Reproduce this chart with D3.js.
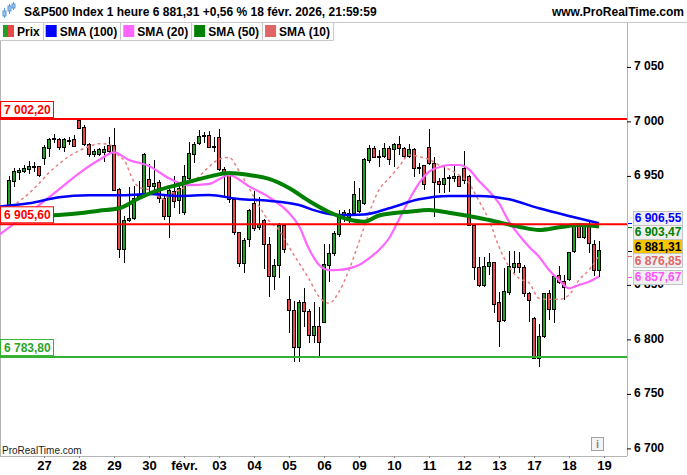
<!DOCTYPE html>
<html>
<head>
<meta charset="utf-8">
<script src="https://cdn.jsdelivr.net/npm/d3@7"></script>
<style>
  body { margin: 0; background: #fff; }
  svg { display: block; font-family: "Liberation Sans", Arial, sans-serif; }
</style>
</head>
<body>
<div id="chart"></div>
<script>

// ---- data (hourly bars, 26 janv. -> 18 févr.) ----
const dayLabels = ["27","28","29","30","févr.","03","04","05","06","09","10","11","12","13","17","18","19"];
const dayStart  = [7,14,21,28,35,42,49,56,63,70,77,84,91,98,105,112,119];

const open = [6917,6944.7,6953.3,6953.9,6956,6958.6,6958.5,
  6966.1,6974.7,6983.5,6983,6976.2,6982,6983,
  7001,6994.6,6978.4,6969.2,6970,6971.3,6977.5,
  6977.5,6937.7,6882.6,6909,6911,6930,6934,
  6946.9,6940.1,6944,6929.4,6913.2,6936.1,6927.3,
  6916.2,6947.8,6969.2,6979.3,6986.6,6987.5,6976.8,
  6985.4,6956,6952.4,6928.5,6897.9,6869.8,6891.2,
  6924.8,6902.8,6909.5,6887.2,6858.1,6868.2,6904.9,
  6836.7,6826.9,6792.6,6833.9,6826,6803.6,6812.2,
  6815.6,6867.6,6878.9,6896.4,6913.8,6912,6915.6,
  6917.2,6924.8,6964,6975.3,6968,6967.7,6975.3,
  6974.4,6978.4,6975.3,6967.7,6974.4,6957.9,6959.1,
  6976.2,6961,6944.7,6941.7,6948.1,6947.8,6949.9,
  6957,6949.9,6904.9,6866.1,6849.9,6867.3,6870.4,
  6833.9,6817.7,6842.8,6866.1,6869.8,6866.1,6842.2,
  6819.3,6782.5,6802.4,6842.2,6827.5,6859,6852.9,
  6855,6880.5,6904,6893.3,6903.4,6887.5,6863];

const high = [6950,6957.6,6957,6960,6964,6963,6959,
  6978.4,6984.5,6988.5,6984.5,6984.5,6986,6987.5,
  7002.2,6996.7,6979.9,6974.4,6975.3,6977.5,6986,
  6993.7,6939.2,6913.2,6940,6940.7,6945,6971.3,
  6960.9,6964.6,6946.2,6931.6,6939.5,6949.9,6943.2,
  6960,6980.8,6981.4,6992.1,6990.6,6991.5,6986,
  6992.8,6957.9,6953.9,6928.5,6898.8,6893.3,6919.3,
  6936.1,6930.3,6910.1,6894.2,6873.4,6906.4,6904.9,
  6858.1,6835.5,6836.1,6846.8,6827.5,6834.6,6830,
  6887.5,6887.5,6899.7,6918.7,6918.7,6919.3,6945.6,
  6938.6,6966.1,6978.4,6977.5,6973.8,6979.9,6977.5,
  6980.5,6986.6,6976.8,6979.3,6975.3,6962.2,6960,
  6992.8,6967,6947.8,6960,6950.8,6959.1,6950.8,
  6973.2,6950.8,6904.9,6875.9,6875.9,6879,6871.3,
  6843.7,6865.2,6881.4,6881.4,6880.5,6868.2,6843.7,
  6820.8,6814.1,6842.8,6845.3,6859,6867.3,6859,
  6880.5,6904.9,6907.1,6904.9,6909.5,6891.2,6890.2];

const low = [6915,6940.1,6946,6952.4,6952,6954,6949.3,
  6960,6967.7,6980,6973.8,6972.2,6978.4,6976.2,
  6993.7,6977.5,6967.7,6967.7,6968.6,6963,6970.7,
  6937,6874.3,6870.4,6908,6910,6928,6932.5,
  6935.5,6935.5,6924.8,6909.5,6893.3,6920.2,6915,
  6914.1,6946.2,6961.5,6978.4,6979.9,6975.3,6972.3,
  6954.8,6930.3,6924.8,6895.8,6866.7,6861.2,6884.4,
  6899.7,6900.3,6864.2,6838.5,6845.3,6856,6878.9,
  6806.1,6778.9,6778.9,6811.6,6796.3,6796.3,6784.1,
  6814.7,6852.9,6876.5,6894.2,6908,6906.5,6914.1,
  6915.6,6923,6962.2,6966.1,6957.9,6966.1,6960,
  6958.5,6969.2,6966.1,6966.1,6949.3,6951.8,6937.1,
  6960,6912,6934.6,6934.6,6935.5,6944.7,6939.5,
  6942.6,6904,6854.4,6848.3,6848.3,6859,6823.8,
  6793.2,6816.2,6840.7,6861.2,6860.6,6839.1,6816.2,
  6781.6,6774.3,6801,6817.7,6815.3,6850.8,6836.1,
  6853.8,6879.5,6892.7,6891.8,6879,6858.1,6857.5];

const close = [6946,6953.9,6955.4,6956.6,6959,6958.5,6950,
  6976.2,6983,6984.5,6976.2,6983,6982.3,6976.8,
  6993.7,6978.4,6969.2,6972.3,6973.8,6973.8,6972.3,
  6937,6882.6,6909.5,6911,6929.4,6932,6969.2,
  6940.1,6943.2,6929.4,6913.2,6936.4,6926.3,6938.6,
  6949.3,6970.1,6979,6986.6,6987.5,6976.2,6976,
  6956,6953,6927.9,6897.9,6869.8,6890.6,6917.8,
  6901.9,6905.8,6887.2,6858.1,6867.9,6904.9,6882.6,
  6826.3,6792.6,6833.9,6826,6803.6,6812.2,6797.2,
  6868.8,6878.9,6896.7,6913.8,6916,6915.6,6932.5,
  6927.3,6964.6,6975.3,6967,6967.5,6975.3,6964.6,
  6978.4,6975.3,6967.7,6974.4,6957,6957.4,6941.7,
  6961.5,6943.8,6941.7,6947.8,6947.7,6949.9,6940.7,
  6945.6,6904.9,6866.1,6849.9,6867.3,6870.4,6832.1,
  6816.2,6844.3,6866.7,6869.8,6866.1,6842.2,6835.5,
  6782.5,6802.4,6842.2,6827.5,6858.1,6852,6847.7,
  6879.5,6904,6893.3,6903.4,6888.1,6863,6881.31];

// moving averages (bar index, value)
const sma100Idx = [-2,4,10,16,22,28,34,40,46,52,58,62,66,71,76,82,88,94,100,106,112,118];
const sma100 = [6921.9,6924.9,6930.4,6932.2,6932.2,6933.4,6931.6,6932.5,6928.8,6927.2,6923.3,6917.2,6914.1,6914.6,6920.3,6928.5,6931.6,6931.6,6928.5,6920.3,6913.2,6906.55];

const sma50Idx = [-2,9,14,18,22,26,30,34,40,44,48,52,56,60,64,68,71,74,80,84,88,92,96,102,106,110,114,118];
const sma50 = [6913.2,6913.9,6915.7,6918.1,6920.3,6929.5,6937.1,6942.1,6949.3,6952.7,6950.8,6947.2,6938.9,6927,6916.9,6910,6908,6913.7,6917.2,6918.7,6916.2,6913.2,6909.5,6903.4,6900.4,6902.8,6904.9,6903.47];

const sma20Idx = [-2,2,6,10,14,18,21,24,28,32,36,40,44,48,52,56,58,60,62,64,66,68,70,72,74,76,78,80,82,84,86,88,90,92,94,96,98,100,102,104,106,108,110,112,114,116,118];
const sma20 = [6895.8,6909.5,6923.3,6937.7,6952.4,6964.6,6971.6,6964.6,6959.1,6947.8,6941.5,6942.6,6950.8,6940.4,6930.6,6916,6904,6883,6868.4,6863.5,6863.7,6865.2,6868.3,6874.4,6882,6892.8,6910,6927.9,6943.2,6953.9,6958,6960,6960,6956,6945.3,6936,6924.9,6908,6895.8,6885,6875.9,6863.7,6854.5,6846.9,6849.9,6852.9,6857.67];

const sma10Idx = [0,1,4,6,8,10,12,14,16,18,20,22,23,25,26,28,30,31,32,34,36,38,40,42,44,46,48,50,52,54,56,58,60,62,64,66,68,70,72,74,76,78,80,82,84,86,88,90,92,94,96,98,100,102,104,106,108,110,112,114,116,118];
const sma10 = [6916,6922,6934,6943,6953,6961,6968,6973,6977,6979.5,6979,6968,6964.6,6944.7,6939.6,6937.1,6930.9,6928.5,6932.5,6937.1,6941.6,6949.3,6958.4,6965.2,6967,6954.5,6938.9,6922.4,6908.6,6900.4,6884.8,6870.1,6855.4,6839.2,6833.1,6843.8,6863.7,6889.4,6915.7,6937.1,6947.8,6958.4,6969.2,6967.6,6965.2,6960,6956.1,6950.8,6943.2,6927,6909.5,6885,6866.7,6856,6852,6837.7,6836.8,6836.8,6840.7,6854.5,6863.7,6876.85];

const levels = [7002.2, 6905.6, 6783.8];
const levelColors = ["#ff0000", "#ff0000", "#33b233"];
const levelTextColors = ["#ff0000", "#ff0000", "#2aa52a"];

// 6 900 is hidden behind the value boxes in the reference
const yTicks = [7050, 7000, 6950, 6850, 6800, 6750, 6700];

const lastVals   = [6906.55, 6903.47, 6881.31, 6876.85, 6857.67];
const lastColors = ["#0000ff", "#008000", "#000000", "#e06666", "#ff55ff"];
const lastFills  = ["#f0f0f0", "#f0f0f0", "#f7c500", "#f0f0f0", "#f0f0f0"];

const legendNames  = ["Prix", "SMA (100)", "SMA (20)", "SMA (50)", "SMA (10)"];
const legendColors = [null, "#0000ff", "#ff66ff", "#008000", "#e06666"];

const title = "S&P500 Index 1 heure 6 881,31 +0,56 % 18 févr. 2026, 21:59:59";

// ---- layout ----
const W = 687, H = 475;
const plot = {left: 0, right: 627, top: 41, bottom: 456};

const fr = d3.formatLocale({decimal: ",", thousands: " ", grouping: [3], currency: ["", ""]});
const fmt0 = fr.format(",.0f"), fmt2 = fr.format(",.2f");

const svg = d3.select("#chart").append("svg")
    .attr("width", W)
    .attr("height", H);

let x = d3.scaleLinear().domain([0, 118]).range([9, 599]);
let y = d3.scaleLinear().domain([6700, 7050]).range([448.4, 66.9]);

svg.append("clipPath").attr("id", "clip")
  .append("rect")
    .attr("x", plot.left).attr("y", plot.top)
    .attr("width", plot.right - plot.left).attr("height", plot.bottom - plot.top);

// header
const icon = svg.append("g").attr("stroke", "#5b9bd5").attr("fill", "#9cc3e6");
[[4, 8, 18, 11, 16], [9, 4, 14, 6, 11], [13, 2, 10, 4, 8]].forEach(c => {
  icon.append("line").attr("x1", c[0] + 0.5).attr("x2", c[0] + 0.5).attr("y1", c[1]).attr("y2", c[2]);
  icon.append("rect").attr("x", c[0] - 1).attr("y", c[3]).attr("width", 3).attr("height", c[4] - c[3]);
});

svg.append("text")
    .attr("x", 24).attr("y", 16)
    .attr("font-size", 12).attr("font-weight", "bold")
    .text(title);

svg.append("text")
    .attr("x", 684).attr("y", 16)
    .attr("text-anchor", "end")
    .attr("font-size", 12).attr("font-weight", "bold")
    .text("www.ProRealTime.com");

svg.append("line")
    .attr("x1", 0).attr("x2", W).attr("y1", 22.5).attr("y2", 22.5)
    .attr("stroke", "#c8c8c8");

// legend row
const leg = svg.append("g").attr("font-size", 12).attr("font-weight", "bold");
let cx = 0;
legendNames.forEach((name, i) => {
  if (i === 0) {
    leg.append("rect").attr("x", cx + 3).attr("y", 25).attr("width", 5).attr("height", 12).attr("fill", "#22a022");
    leg.append("rect").attr("x", cx + 8).attr("y", 25).attr("width", 6).attr("height", 12).attr("fill", "#e84848");
  } else {
    leg.append("rect").attr("x", cx + 3).attr("y", 25).attr("width", 11).attr("height", 12).attr("fill", legendColors[i]);
  }
  const t = leg.append("text").attr("x", cx + 17).attr("y", 36).text(name);
  cx += 17 + t.node().getComputedTextLength() + 3;
  leg.append("line")
      .attr("x1", Math.round(cx) + 0.5).attr("x2", Math.round(cx) + 0.5)
      .attr("y1", 23).attr("y2", 40)
      .attr("stroke", "#c8c8c8");
});
leg.append("line")
    .attr("x1", 0).attr("x2", Math.round(cx) + 0.5).attr("y1", 40.5).attr("y2", 40.5)
    .attr("stroke", "#c8c8c8");

// frame
svg.append("line").attr("x1", 0.5).attr("x2", 0.5).attr("y1", plot.top).attr("y2", plot.bottom)
    .attr("stroke", "#b4b4b4");
svg.append("line").attr("x1", plot.right + 0.5).attr("x2", plot.right + 0.5).attr("y1", 23).attr("y2", plot.bottom)
    .attr("stroke", "#b4b4b4");
svg.append("line").attr("x1", 0).attr("x2", plot.right).attr("y1", plot.bottom + 0.5).attr("y2", plot.bottom + 0.5)
    .attr("stroke", "#b4b4b4");

// watermark + info icon
svg.append("text")
    .attr("x", 2).attr("y", 454)
    .attr("font-size", 10).attr("fill", "#222")
    .text("ProRealTime.com");
svg.append("rect").attr("x", 591.5).attr("y", 437.5).attr("width", 12).attr("height", 13)
    .attr("fill", "#f4f4f4").attr("stroke", "#a0a0a0");
svg.append("text").attr("x", 597.5).attr("y", 448).attr("text-anchor", "middle")
    .attr("font-size", 11).attr("font-weight", "bold").attr("fill", "#8a8a8a").text("i");

const main = svg.append("g").attr("clip-path", "url(#clip)");

// candles
const bars = d3.range(open.length);
const candle = main.append("g").attr("shape-rendering", "crispEdges")
  .selectAll("g")
  .data(bars)
  .join("g");

candle.append("line")
    .attr("x1", i => x(i) + 0.5).attr("x2", i => x(i) + 0.5)
    .attr("y1", i => y(high[i])).attr("y2", i => y(low[i]))
    .attr("stroke", "#000");

candle.append("rect")
    .attr("x", i => x(i) - 1.5)
    .attr("y", i => y(Math.max(open[i], close[i])))
    .attr("width", 3)
    .attr("height", i => Math.max(1, Math.abs(y(open[i]) - y(close[i]))))
    .attr("fill", i => close[i] >= open[i] ? "#22a022" : "#e84848")
    .attr("stroke", "#000");

// moving averages
function maLine(idx, vals) {
  return d3.line().curve(d3.curveMonotoneX)
    .x((d, k) => x(idx[k]))
    .y(d => y(d))(vals);
}

main.append("path").attr("d", maLine(sma10Idx, sma10))
    .attr("fill", "none").attr("stroke", "#e88080").attr("stroke-width", 1.5)
    .attr("stroke-dasharray", "3,3");
main.append("path").attr("d", maLine(sma20Idx, sma20))
    .attr("fill", "none").attr("stroke", "#ff66ff").attr("stroke-width", 2.2);
main.append("path").attr("d", maLine(sma100Idx, sma100))
    .attr("fill", "none").attr("stroke", "#0000ff").attr("stroke-width", 2.5);
main.append("path").attr("d", maLine(sma50Idx, sma50))
    .attr("fill", "none").attr("stroke", "#008000").attr("stroke-width", 4);

// horizontal levels
levels.forEach((v, i) => {
  main.append("line")
      .attr("x1", plot.left).attr("x2", plot.right)
      .attr("y1", y(v)).attr("y2", y(v))
      .attr("stroke", levelColors[i]).attr("stroke-width", 2);
  main.append("rect")
      .attr("x", 0.5).attr("y", y(v) - 17.5)
      .attr("width", 53).attr("height", 16)
      .attr("fill", "#fff").attr("stroke", levelColors[i]);
  main.append("text")
      .attr("x", 4).attr("y", y(v) - 5)
      .attr("font-size", 12).attr("font-weight", "bold")
      .attr("fill", levelTextColors[i])
      .text(fmt2(v));
});

// right axis
svg.append("g")
    .attr("transform", `translate(${plot.right},0)`)
    .call(d3.axisRight(y).tickValues(yTicks).tickSize(4).tickPadding(3).tickFormat(fmt0))
    .call(g => g.select(".domain").remove())
    .call(g => g.selectAll(".tick line").attr("stroke", "#000"))
    .call(g => g.selectAll(".tick text")
        .attr("font-family", "Liberation Sans, Arial, sans-serif")
        .attr("font-size", 12).attr("font-weight", "bold").attr("fill", "#000")
        .attr("dy", "0.25em"));

// bottom axis
svg.append("g")
    .attr("transform", `translate(0,${plot.bottom})`)
    .call(d3.axisBottom(x).tickValues(dayStart).tickSize(2).tickPadding(3)
        .tickFormat((d, i) => dayLabels[i]))
    .call(g => g.select(".domain").remove())
    .call(g => g.selectAll(".tick line").attr("stroke", "#888"))
    .call(g => g.selectAll(".tick text")
        .attr("font-family", "Liberation Sans, Arial, sans-serif")
        .attr("font-size", 13).attr("font-weight", "bold").attr("fill", "#000"));

// last value boxes on the right axis
const gap = 14;
let pos = lastVals.map(v => y(v));
for (let it = 0; it < 10; it++) {
  for (let k = 1; k < pos.length; k++) {
    if (pos[k] - pos[k - 1] < gap) {
      const mid = (pos[k] + pos[k - 1]) / 2;
      pos[k - 1] = mid - gap / 2;
      pos[k] = mid + gap / 2;
    }
  }
}
const boxOrder = [0, 1, 3, 4, 2]; // current price box on top
boxOrder.forEach(k => {
  const v = lastVals[k];
  svg.append("line")
      .attr("x1", plot.right + 1).attr("x2", plot.right + 5)
      .attr("y1", Math.round(y(v)) + 0.5).attr("y2", Math.round(y(v)) + 0.5)
      .attr("stroke", lastColors[k]);
  svg.append("rect")
      .attr("x", 633.5).attr("y", Math.round(pos[k] - 7) + 0.5)
      .attr("width", 49).attr("height", 14)
      .attr("fill", lastFills[k]).attr("stroke", "#c4c4c4");
  svg.append("text")
      .attr("x", 658).attr("y", pos[k] + 4.5)
      .attr("text-anchor", "middle")
      .attr("font-size", 12).attr("font-weight", "bold")
      .attr("fill", lastColors[k])
      .text(fmt2(v));
});

</script>
</body>
</html>
